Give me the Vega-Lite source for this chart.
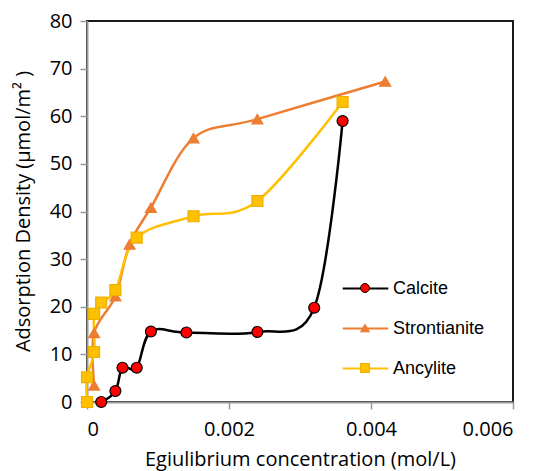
{
  "$schema": "https://vega.github.io/schema/vega-lite/v6.json",
  "width": 426,
  "height": 381,
  "autosize": {"type": "none"},
  "padding": {"left": 87, "top": 21, "right": 26, "bottom": 69},
  "background": "white",
  "config": {
    "view": {"stroke": "#1a1a1a", "strokeWidth": 2},
    "axis": {
      "grid": false,
      "domainColor": "#999999",
      "domainWidth": 2,
      "tickColor": "#999999",
      "tickWidth": 1.5,
      "tickSize": 7,
      "labelFont": "Open Sans",
      "labelFontSize": 20,
      "labelColor": "#000000",
      "titleFont": "Open Sans",
      "titleFontSize": 20,
      "titleFontWeight": "normal",
      "titleColor": "#000000"
    },
    "legend": {
      "labelFont": "Liberation Sans",
      "labelFontSize": 18,
      "labelColor": "#000000",
      "padding": 0
    }
  },
  "data": {
    "values": [
      {"series": "Calcite", "i": 1, "x": 0.0002, "y": 0},
      {"series": "Calcite", "i": 2, "x": 0.0004, "y": 2.3},
      {"series": "Calcite", "i": 3, "x": 0.0005, "y": 7.2},
      {"series": "Calcite", "i": 4, "x": 0.0007, "y": 7.2},
      {"series": "Calcite", "i": 5, "x": 0.0009, "y": 14.8},
      {"series": "Calcite", "i": 6, "x": 0.0014, "y": 14.6},
      {"series": "Calcite", "i": 7, "x": 0.0024, "y": 14.7},
      {"series": "Calcite", "i": 8, "x": 0.0032, "y": 19.8},
      {"series": "Calcite", "i": 9, "x": 0.0036, "y": 59.0},
      {"series": "Strontianite", "i": 1, "x": 0.0001, "y": 3.5},
      {"series": "Strontianite", "i": 2, "x": 0.0001, "y": 14.5},
      {"series": "Strontianite", "i": 3, "x": 0.0004, "y": 22.2},
      {"series": "Strontianite", "i": 4, "x": 0.0006, "y": 33.1},
      {"series": "Strontianite", "i": 5, "x": 0.0009, "y": 40.8},
      {"series": "Strontianite", "i": 6, "x": 0.0015, "y": 55.4},
      {"series": "Strontianite", "i": 7, "x": 0.0024, "y": 59.4},
      {"series": "Strontianite", "i": 8, "x": 0.0042, "y": 67.3},
      {"series": "Ancylite", "i": 1, "x": 0.0, "y": 0},
      {"series": "Ancylite", "i": 2, "x": 0.0, "y": 5.2},
      {"series": "Ancylite", "i": 3, "x": 0.0001, "y": 10.5},
      {"series": "Ancylite", "i": 4, "x": 0.0001, "y": 18.5},
      {"series": "Ancylite", "i": 5, "x": 0.0002, "y": 20.9},
      {"series": "Ancylite", "i": 6, "x": 0.0004, "y": 23.5},
      {"series": "Ancylite", "i": 7, "x": 0.0007, "y": 34.5},
      {"series": "Ancylite", "i": 8, "x": 0.0015, "y": 39.0},
      {"series": "Ancylite", "i": 9, "x": 0.0024, "y": 42.2},
      {"series": "Ancylite", "i": 10, "x": 0.0036, "y": 63.0}
    ]
  },
  "encoding": {
    "x": {
      "field": "x",
      "type": "quantitative",
      "scale": {"domain": [0, 0.006], "nice": false, "zero": false},
      "axis": {
        "values": [0, 0.002, 0.004, 0.006],
        "format": ".3~f",
        "labelPadding": 10,
        "title": "Egiulibrium concentration (mol/L)",
        "titlePadding": 10
      }
    },
    "y": {
      "field": "y",
      "type": "quantitative",
      "scale": {"domain": [0, 80], "nice": false},
      "axis": {
        "values": [0, 10, 20, 30, 40, 50, 60, 70, 80],
        "labelPadding": 8,
        "title": "Adsorption Density (µmol/m² )",
        "titleX": -54,
        "titleY": 190
      }
    }
  },
  "layer": [
    {
      "mark": {"type": "line", "interpolate": "cardinal", "strokeWidth": 2.5},
      "encoding": {
        "order": {"field": "i", "type": "quantitative"},
        "color": {
          "field": "series",
          "type": "nominal",
          "sort": ["Calcite", "Strontianite", "Ancylite"],
          "scale": {"range": ["#000000", "#ED7D31", "#FFC000"]},
          "legend": {
            "title": null,
            "orient": "none",
            "legendX": 258,
            "legendY": 247,
            "symbolType": "M-1.2,0L1.2,0",
            "symbolSize": 1444,
            "symbolStrokeWidth": 2.2,
            "rowPadding": 10,
            "labelOffset": 7
          }
        }
      }
    },
    {
      "mark": {"type": "point", "filled": true, "size": 120, "strokeWidth": 1.2, "opacity": 1},
      "encoding": {
        "fill": {
          "field": "series",
          "type": "nominal",
          "scale": {
            "domain": ["Calcite", "Strontianite", "Ancylite"],
            "range": ["#FF0000", "#ED7D31", "#FFC000"]
          },
          "legend": {
            "title": null,
            "orient": "none",
            "legendX": 269,
            "legendY": 258,
            "symbolSize": 80,
            "symbolStrokeWidth": 1,
            "rowPadding": 22,
            "labelOpacity": 0
          }
        },
        "stroke": {
          "field": "series",
          "type": "nominal",
          "scale": {
            "domain": ["Calcite", "Strontianite", "Ancylite"],
            "range": ["#000000", "#ED7D31", "#EBB000"]
          },
          "legend": {
            "title": null,
            "orient": "none",
            "legendX": 269,
            "legendY": 258,
            "symbolSize": 80,
            "symbolStrokeWidth": 1,
            "rowPadding": 22,
            "labelOpacity": 0
          }
        },
        "shape": {
          "field": "series",
          "type": "nominal",
          "scale": {
            "domain": ["Calcite", "Strontianite", "Ancylite"],
            "range": ["circle", "triangle-up", "square"]
          },
          "legend": {
            "title": null,
            "orient": "none",
            "legendX": 269,
            "legendY": 258,
            "symbolSize": 80,
            "symbolStrokeWidth": 1,
            "rowPadding": 22,
            "labelOpacity": 0
          }
        }
      }
    }
  ]
}
